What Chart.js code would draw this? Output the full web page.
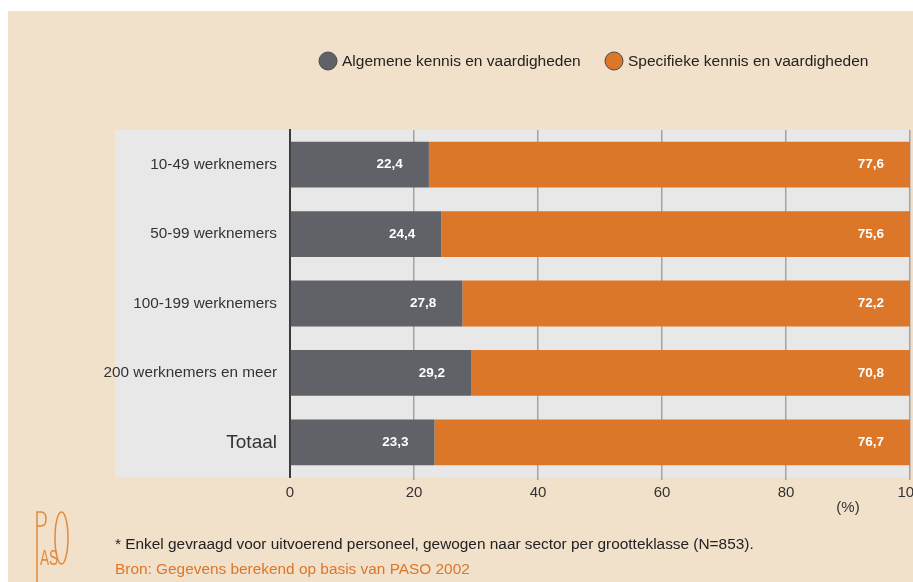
<!DOCTYPE html>
<html>
<head>
<meta charset="utf-8">
<script src="https://cdn.jsdelivr.net/npm/chart.js@4.4.1/dist/chart.umd.min.js"></script>
<style>
  html, body { margin: 0; padding: 0; background: #ffffff; }
  #wrap { position: relative; width: 913px; height: 582px; }
</style>
</head>
<body>
<div id="wrap"><canvas id="chart" width="913" height="582"></canvas></div>
<script>
const categories = ['10-49 werknemers', '50-99 werknemers', '100-199 werknemers', '200 werknemers en meer', 'Totaal'];
const algemeen = [22.4, 24.4, 27.8, 29.2, 23.3];
const specifiek = [77.6, 75.6, 72.2, 70.8, 76.7];
const seriesNames = ['Algemene kennis en vaardigheden', 'Specifieke kennis en vaardigheden'];
const xTicks = [0, 20, 40, 60, 80, 100];

const FONT = "'Liberation Sans', Arial, sans-serif";
const GRAY = '#606267';
const ORANGE = '#dc7629';

const backdrop = {
    id: 'backdrop',
    beforeDraw(chart) {
        const ctx = chart.ctx;
        const a = chart.chartArea;
        ctx.save();
        ctx.fillStyle = '#f1e0ca';
        ctx.fillRect(8, 11, chart.width - 8, chart.height - 11);
        ctx.fillStyle = '#e8e8e8';
        ctx.fillRect(115, a.top, a.right - 115, a.bottom - a.top);
        ctx.restore();
    }
};

const valueLabels = {
    id: 'valueLabels',
    afterDatasetsDraw(chart) {
        const ctx = chart.ctx;
        ctx.save();
        ctx.fillStyle = '#ffffff';
        ctx.font = 'bold 13.5px ' + FONT;
        ctx.textAlign = 'right';
        ctx.textBaseline = 'middle';
        chart.data.datasets.forEach((ds, i) => {
            chart.getDatasetMeta(i).data.forEach((bar, j) => {
                const txt = ds.data[j].toFixed(1).replace('.', ',');
                ctx.fillText(txt, bar.x - 26, bar.y);
            });
        });
        ctx.restore();
    }
};

const extras = {
    id: 'extras',
    afterDraw(chart) {
        const ctx = chart.ctx;
        ctx.save();
        // legend
        const legendPos = [328, 614];
        ctx.textBaseline = 'middle';
        ctx.textAlign = 'left';
        ctx.font = '15.5px ' + FONT;
        chart.data.datasets.forEach((ds, i) => {
            const cx = legendPos[i];
            ctx.beginPath();
            ctx.arc(cx, 61, 9, 0, Math.PI * 2);
            ctx.fillStyle = ds.backgroundColor;
            ctx.fill();
            ctx.lineWidth = 1;
            ctx.strokeStyle = '#4a4a4a';
            ctx.stroke();
            ctx.fillStyle = '#222222';
            ctx.fillText(ds.label, cx + 14, 62);
        });

        // unit
        ctx.textAlign = 'center';
        ctx.font = '15px ' + FONT;
        ctx.fillStyle = '#333333';
        ctx.fillText('(%)', 848, 508);

        // footnotes
        ctx.textAlign = 'left';
        ctx.font = '15.4px ' + FONT;
        ctx.fillStyle = '#222222';
        ctx.fillText('* Enkel gevraagd voor uitvoerend personeel, gewogen naar sector per grootteklasse (N=853).', 115, 545);
        ctx.fillStyle = ORANGE;
        ctx.fillText('Bron: Gegevens berekend op basis van PASO 2002', 115, 570);

        // PASO logo
        ctx.strokeStyle = '#e08a3c';
        ctx.fillStyle = '#e08a3c';
        ctx.lineWidth = 1.5;
        ctx.beginPath();
        ctx.moveTo(37, 582);
        ctx.lineTo(37, 512);
        ctx.lineTo(41, 512);
        ctx.quadraticCurveTo(46, 512, 46, 519);
        ctx.quadraticCurveTo(46, 526, 41, 526);
        ctx.lineTo(37, 526);
        ctx.stroke();
        ctx.save();
        ctx.translate(40, 565);
        ctx.scale(0.62, 1);
        ctx.font = '22px ' + FONT;
        ctx.textBaseline = 'alphabetic';
        ctx.fillText('AS', 0, 0);
        ctx.restore();
        ctx.beginPath();
        ctx.ellipse(61.5, 538, 6.5, 26, 0, 0, Math.PI * 2);
        ctx.stroke();
        ctx.restore();
    }
};

new Chart(document.getElementById('chart'), {
    type: 'bar',
    data: {
        labels: categories,
        datasets: [
            { label: seriesNames[0], data: algemeen, backgroundColor: GRAY, barPercentage: 0.66, categoryPercentage: 1 },
            { label: seriesNames[1], data: specifiek, backgroundColor: ORANGE, barPercentage: 0.66, categoryPercentage: 1 }
        ]
    },
    options: {
        indexAxis: 'y',
        responsive: false,
        animation: false,
        layout: { padding: { top: 130, right: 3, left: 0, bottom: 0 } },
        plugins: {
            legend: { display: false },
            tooltip: { enabled: false }
        },
        scales: {
            x: {
                stacked: true,
                min: 0,
                max: 100,
                afterBuildTicks: (scale) => { scale.ticks = xTicks.map(v => ({ value: v })); },
                afterFit: (scale) => {
                    scale.height = 105;
                    scale.paddingRight = 0;
                    scale.paddingLeft = 0;
                },
                border: { display: false },
                grid: {
                    color: (c) => c.tick && c.tick.value === 0 ? 'rgba(0,0,0,0)' : '#a3a3a3',
                    lineWidth: 1.5,
                    tickLength: 3
                },
                ticks: {
                    color: '#333333',
                    padding: 4,
                    font: { family: FONT, size: 15 }
                }
            },
            y: {
                stacked: true,
                afterFit: (scale) => { scale.width = 290; },
                border: { display: true, color: '#3a3a3a', width: 2 },
                grid: { display: false, drawTicks: false },
                ticks: {
                    color: '#333333',
                    padding: 13,
                    font: (c) => ({ family: FONT, size: c.index === 4 ? 19 : 15.3 })
                }
            }
        }
    },
    plugins: [backdrop, valueLabels, extras]
});
</script>
</body>
</html>
